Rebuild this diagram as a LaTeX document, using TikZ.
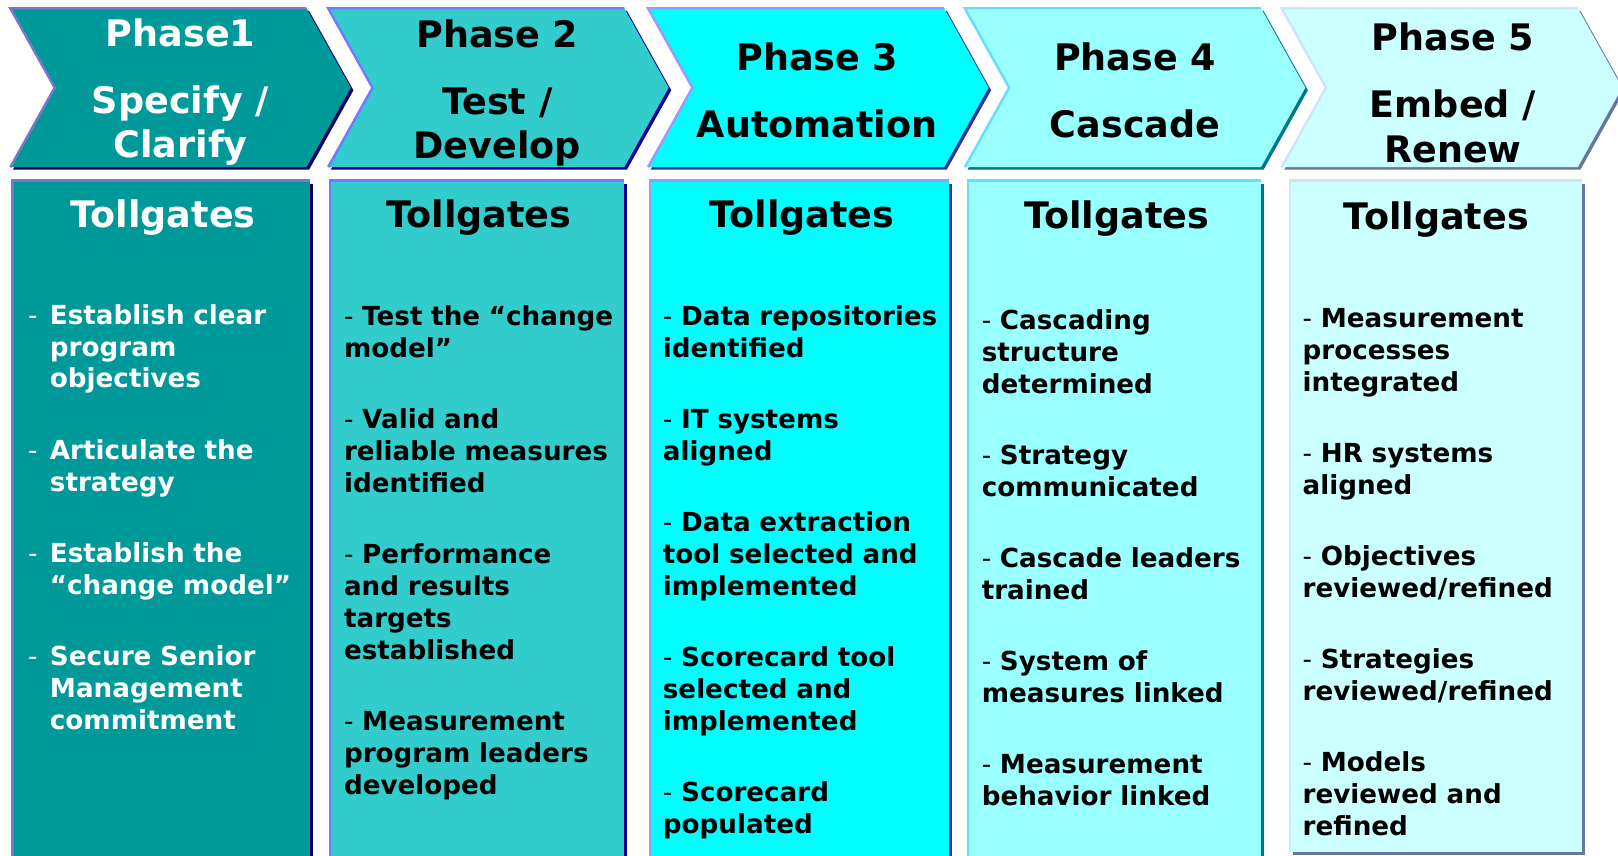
\documentclass[tikz,border=0pt]{standalone}
\usepackage{fontspec}
\setmainfont{DejaVu Sans}

% fills, light rims and dark shadows of the five phases
\definecolor{tealA}{HTML}{009999}
\definecolor{tealB}{HTML}{33CCCC}
\definecolor{tealC}{HTML}{00FFFF}
\definecolor{tealD}{HTML}{99FFFF}
\definecolor{tealE}{HTML}{CCFFFF}
\definecolor{rimA}{HTML}{7777CC}
\definecolor{rimB}{HTML}{7777FF}
\definecolor{rimC}{HTML}{9999FF}
\definecolor{rimD}{HTML}{66DDFF}
\definecolor{rimE}{HTML}{CCE5FF}
\definecolor{shadeA}{HTML}{000066}
\definecolor{shadeB}{HTML}{000099}
\definecolor{shadeC}{HTML}{333399}
\definecolor{shadeD}{HTML}{007788}
\definecolor{shadeE}{HTML}{667799}

\newcommand{\gdash}{\textmd{-}}
% hanging dash for the first list
\newcommand{\gitem}{\leavevmode\llap{\gdash\hspace{6pt}}}

\tikzset{
  phasetitle/.style={font=\fontsize{17.7}{21.5}\selectfont\bfseries, align=center, inner sep=0pt, anchor=base},
  gatetitle/.style={font=\fontsize{17.7}{21.5}\selectfont\bfseries, inner sep=0pt},
  gatelist/.style={font=\fontsize{12.7}{15.5}\selectfont\bfseries, text width=150pt, align=left, inner sep=0pt, anchor=base west},
}

\begin{document}
\begin{tikzpicture}[x=0.5pt,y=-0.5pt]
\useasboundingbox (0,0) rectangle (1568,829);
\clip (0,0) rectangle (1568,829);

% phase arrows: shadow, body, light rim on the left and top
\foreach \lx/\body/\rim/\shade in {10/tealA/rimA/shadeA,318/tealB/rimB/shadeB,628/tealC/rimC/shadeC,935/tealD/rimD/shadeD,1242/tealE/rimE/shadeE} {
  \fill[\shade] (\lx+2.5,10.5) -- (\lx+289.5,10.5) -- (\lx+332.5,87.5) -- (\lx+289.5,164.5) -- (\lx+2.5,164.5) -- (\lx+45.5,87.5) -- cycle;
  \fill[\body] (\lx,8) -- (\lx+287,8) -- (\lx+330,85) -- (\lx+287,162) -- (\lx,162) -- (\lx+43,85) -- cycle;
  \draw[\rim, line width=1.2pt] (\lx,162) -- (\lx+43,85) -- (\lx,8) -- (\lx+287,8);
}

% tollgate boxes
\foreach \bx/\bw/\by/\body/\rim/\shade in {12/288/840/tealA/rimA/shadeA,320/285/840/tealB/rimB/shadeB,630/290/840/tealC/rimC/shadeC,938/284/840/tealD/rimD/shadeD,1250/283/826/tealE/rimE/shadeE} {
  \fill[\shade] (\bx+3,178) rectangle (\bx+\bw+3,\by+3);
  \fill[\body] (\bx,175) rectangle (\bx+\bw,\by);
  \draw[\rim, line width=1.2pt] (\bx,\by) -- (\bx,175) -- (\bx+\bw,175);
}

% phase names (placed by the baseline of the last line)
\node[phasetitle, text=white] (phase1) at (175,153) {Phase1\\[11pt]Specify /\\Clarify};
\node[phasetitle] (phase2) at (482,154) {Phase 2\\[11pt]Test /\\Develop};
\node[phasetitle] (phase3) at (792,133) {Phase 3\\[11pt]Automation};
\node[phasetitle] (phase4) at (1100,133) {Phase 4\\[11pt]Cascade};
\node[phasetitle] (phase5) at (1408,157) {Phase 5\\[11pt]Embed /\\Renew};

% box headings
\node[gatetitle, text=white] (gate1) at (158,211) {Tollgates};
\node[gatetitle] (gate2) at (464,211) {Tollgates};
\node[gatetitle] (gate3) at (777,211) {Tollgates};
\node[gatetitle] (gate4) at (1082,212) {Tollgates};
\node[gatetitle] (gate5) at (1392,213) {Tollgates};

% tollgate lists
\node[gatelist, text=white] (list1) at (48,314) {%
  \gitem Establish clear\\program\\objectives\\[19pt]
  \gitem Articulate the\\strategy\\[19pt]
  \gitem Establish the\\“change model”\\[19pt]
  \gitem Secure Senior\\Management\\commitment};
\node[gatelist] (list2) at (333,315) {%
  \gdash{} Test the “change\\model”\\[19pt]
  \gdash{} Valid and\\reliable measures\\identified\\[19pt]
  \gdash{} Performance\\and results\\targets\\established\\[19pt]
  \gdash{} Measurement\\program leaders\\developed};
\node[gatelist] (list3) at (642,315) {%
  \gdash{} Data repositories\\identified\\[19pt]
  \gdash{} IT systems\\aligned\\[19pt]
  \gdash{} Data extraction\\tool selected and\\implemented\\[19pt]
  \gdash{} Scorecard tool\\selected and\\implemented\\[19pt]
  \gdash{} Scorecard\\populated};
\node[gatelist] (list4) at (951,319) {%
  \gdash{} Cascading\\structure\\determined\\[19pt]
  \gdash{} Strategy\\communicated\\[19pt]
  \gdash{} Cascade leaders\\trained\\[19pt]
  \gdash{} System of\\measures linked\\[19pt]
  \gdash{} Measurement\\behavior linked};
\node[gatelist] (list5) at (1262,317) {%
  \gdash{} Measurement\\processes\\integrated\\[19pt]
  \gdash{} HR systems\\aligned\\[19pt]
  \gdash{} Objectives\\reviewed/refined\\[19pt]
  \gdash{} Strategies\\reviewed/refined\\[19pt]
  \gdash{} Models\\reviewed and\\refined};
\end{tikzpicture}
\end{document}
